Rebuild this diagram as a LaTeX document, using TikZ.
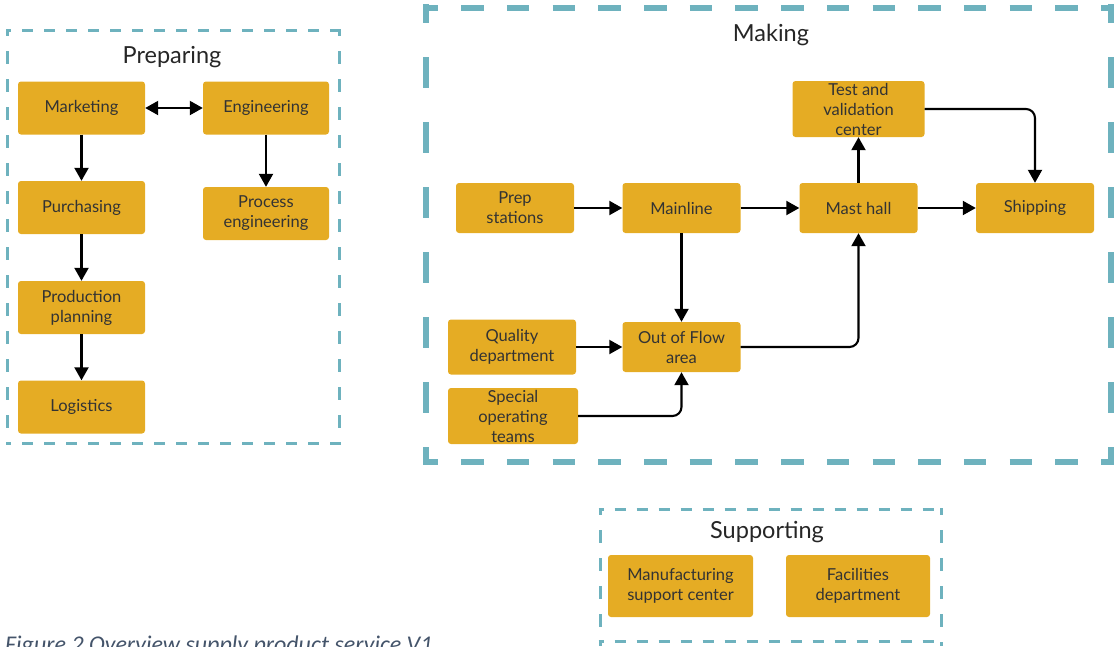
\documentclass[tikz,border=0pt]{standalone}
\usepackage{fontspec}
\setmainfont{Lato}
\newfontfamily\capfont{Carlito}
\usetikzlibrary{arrows.meta}
\definecolor{boxfill}{HTML}{E5AC24}
\definecolor{framecol}{HTML}{6EB2BE}
\definecolor{capcol}{HTML}{44546A}
\begin{document}
\begin{tikzpicture}[x=1pt,y=-1pt,font=\fontsize{16.5}{20}\selectfont,line join=round,>={Triangle[length=13pt,width=14pt]}]
	\tikzset{box/.style={fill=boxfill,rounded corners=3pt,minimum width=126pt,minimum height=53pt,align=center,inner sep=1pt,text=black!80},
		title/.style={font=\fontsize{23.5}{28}\selectfont,text=black!85},
		hdash/.style={draw=framecol,line width=3pt,dash pattern=on 11pt off 11pt,dash phase=6pt},
		vdash/.style={draw=framecol,line width=3pt,dash pattern=on 13pt off 15pt,dash phase=6pt},
		bighdash/.style={draw=framecol,line width=6pt,dash pattern=on 22.5pt off 23.2pt,dash phase=7.5pt},
		bigvdash/.style={draw=framecol,line width=6pt,dash pattern=on 31pt off 34pt,dash phase=12pt},
		flow/.style={->,line width=2.1pt,rounded corners=9pt}}
	\useasboundingbox (0,0) rectangle (1117,646);
	% frames
	\draw[hdash] (6,30.5)--(341,30.5) (6,443)--(341,443);
	\draw[vdash] (7.5,29)--(7.5,444.5) (339.5,29)--(339.5,444.5);
	\draw[bighdash] (423,7.5)--(1114,7.5) (423,461.5)--(1114,461.5);
	\draw[bigvdash] (426,4)--(426,465) (1111,4)--(1111,465);
	\draw[hdash] (598.5,509.5)--(943,509.5) (598.5,641.5)--(943,641.5);
	\draw[vdash] (600,508)--(600,646) (941.5,508)--(941.5,646);
	\node[title] (tprep) at (172,57) {Preparing};
	\node[title] (tmake) at (771,35) {Making};
	\node[title] (tsupp) at (767,532) {Supporting};
	% preparing
	\node[box,minimum width=127pt] (mkt) at (81.5,108) {Marketing};
	\node[box] (eng) at (266,108) {Engineering};
	\node[box,minimum width=127pt] (pur) at (81.5,207.5) {Purchasing};
	\node[box] (proc) at (266,213.5) {Process\\engineering};
	\node[box,minimum width=127pt] (prod) at (81.5,307.5) {Production\\planning};
	\node[box,minimum width=127pt] (log) at (81.5,407) {Logistics};
	\draw[<->,line width=2.1pt] (mkt)--(eng);
	\draw[flow] (mkt)--(pur);
	\draw[flow] (pur)--(prod);
	\draw[flow] (prod)--(log);
	\draw[flow] (eng)--(proc);
	% making
	\node[box,minimum width=118pt,minimum height=50pt] (prep) at (515,208) {Prep\\stations};
	\node[box,minimum width=118pt,minimum height=50pt] (main) at (681.5,208) {Mainline};
	\node[box,minimum width=118pt,minimum height=50pt] (mast) at (858.5,208) {Mast hall};
	\node[box,minimum width=118pt,minimum height=50pt] (ship) at (1035,208) {Shipping};
	\node[box,minimum width=132pt,minimum height=56pt] (test) at (858.5,109) {Test and\\validation\\center};
	\node[box,minimum width=128pt,minimum height=55pt] (qual) at (512,347) {Quality\\department};
	\node[box,minimum width=118pt,minimum height=50pt] (oof) at (681.5,347) {Out of Flow\\area};
	\node[box,minimum width=130pt,minimum height=56pt] (spec) at (513,416) {Special\\operating\\teams};
	\draw[flow] (prep)--(main);
	\draw[flow] (main)--(mast);
	\draw[flow] (mast)--(ship);
	\draw[flow] (mast)--(test);
	\draw[flow] (main)--(oof);
	\draw[flow] (qual)--(oof);
	\draw[flow] (test.east)-|(ship.north);
	\draw[flow] (oof.east)-|(mast.south);
	\draw[flow] (spec.east)-|(oof.south);
	% supporting
	\node[box,minimum width=145pt,minimum height=62pt] (msc) at (680.5,586) {Manufacturing\\support center};
	\node[box,minimum width=144pt,minimum height=62pt] (fac) at (858,586) {Facilities\\department};
	\node[anchor=base west,inner sep=0pt,text=capcol,font=\capfont\itshape\fontsize{24}{28}\selectfont] (cap) at (5,652) {Figure 2 Overview supply product service V1};
\end{tikzpicture}
\end{document}
